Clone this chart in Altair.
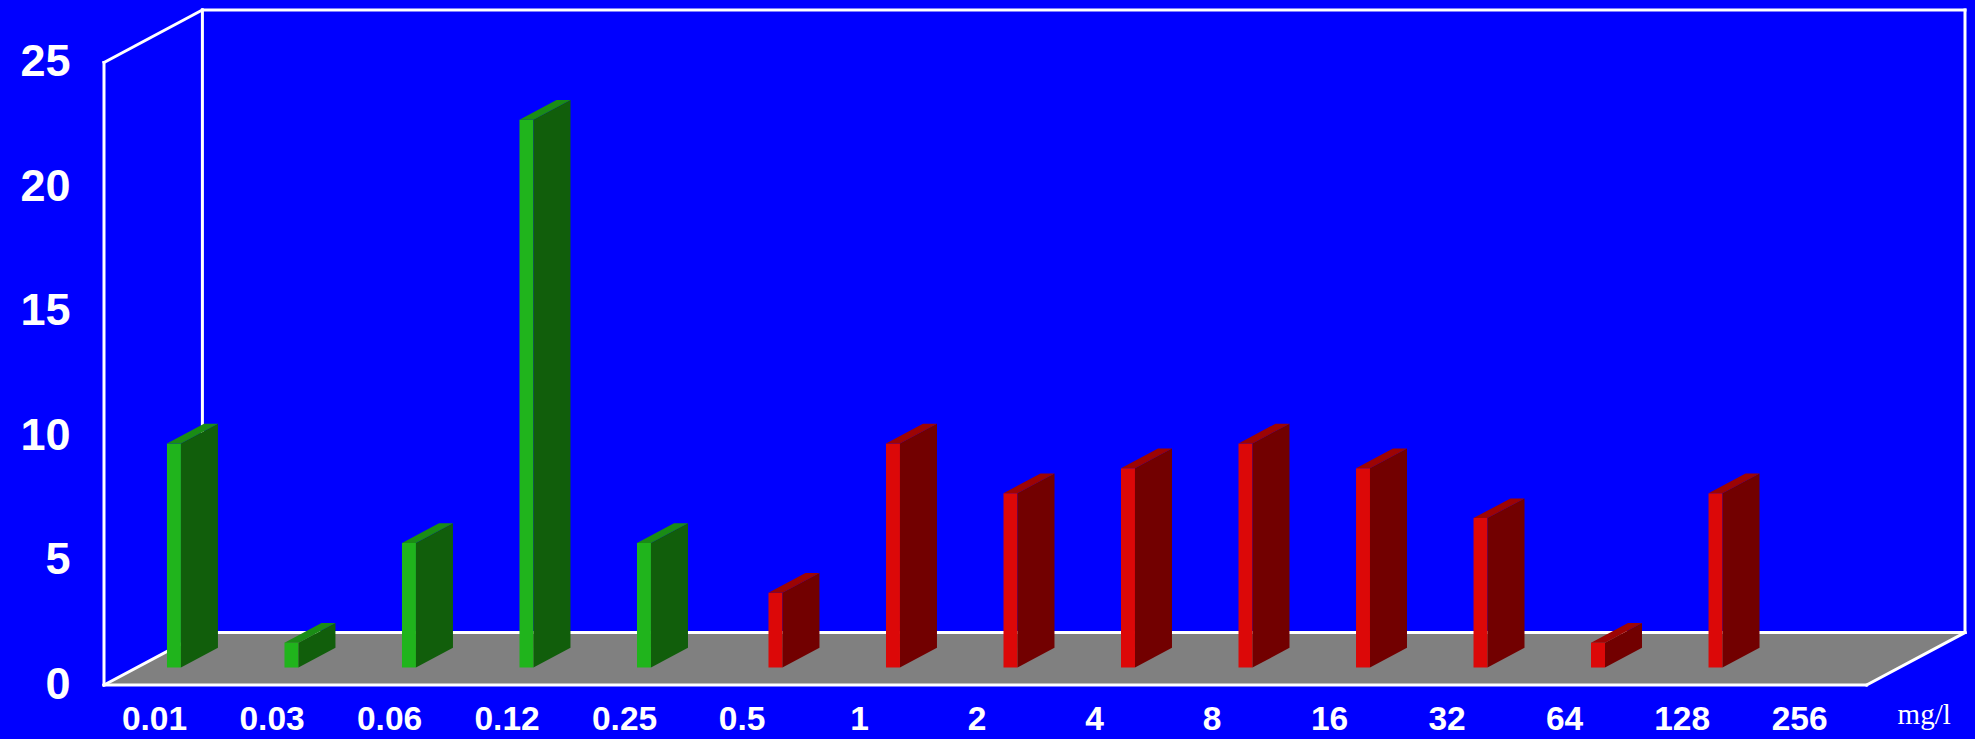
import altair as alt
import pandas as pd

# MIC distribution: number of isolates per concentration (mg/l)
categories = ["0.01", "0.03", "0.06", "0.12", "0.25", "0.5", "1", "2",
              "4", "8", "16", "32", "64", "128", "256"]
susceptible = [9, 1, 5, 22, 5, 0, 0, 0, 0, 0, 0, 0, 0, 0, 0]
resistant = [0, 0, 0, 0, 0, 3, 9, 7, 8, 9, 8, 6, 1, 7, 0]
y_ticks = [0, 5, 10, 15, 20, 25]
unit_label = "mg/l"

Y_MAX = 25
N = len(categories)

# Oblique projection of the 3-D box: depth z in [0, 1] shifts points
# right (in category units) and up (in value units).
KX = 98.4 / 117.5
KY = 52.5 / 24.92
Z1, Z2 = 0.333, 0.709      # depth of the bars' front and back faces
BAR_W = 0.119              # bar width in category units
SLOT0 = 0.257              # left edge of the first series slot


def proj(u, v, z):
    return u + z * KX, v + z * KY


series = [
    (susceptible, 0, "#20B41C", "#115E0B", "#1A8C15"),
    (resistant, 1, "#DC0808", "#720000", "#9C0404"),
]

front_rows, side_rows, top_rows = [], [], []
for values, slot, c_front, c_side, c_top in series:
    for i, val in enumerate(values):
        if val <= 0:
            continue
        ul = i + SLOT0 + slot * BAR_W
        ur = ul + BAR_W
        key = f"s{slot}_{i}"
        x0, y0 = proj(ul, 0, Z1)
        x1, y1 = proj(ur, val, Z1)
        front_rows.append(dict(x=x0, x2=x1, y=y0, y2=y1, c=c_front))
        for z in (Z1, Z2):
            xs, yb = proj(ur, 0, z)
            _, yt = proj(ur, val, z)
            side_rows.append(dict(key=key, x=xs, y=yt, y2=yb, c=c_side))
            xl, yv = proj(ul, val, z)
            xr, _ = proj(ur, val, z)
            top_rows.append(dict(key=key, y=yv, x=xl, x2=xr, c=c_top))

# White frame of the box
edges = [
    ((0, 0, 0), (0, Y_MAX, 0)),
    ((0, Y_MAX, 0), (0, Y_MAX, 1)),
    ((0, 0, 0), (0, 0, 1)),
    ((0, 0, 1), (0, Y_MAX, 1)),
    ((0, Y_MAX, 1), (N, Y_MAX, 1)),
    ((N, Y_MAX, 1), (N, 0, 1)),
    ((0, 0, 1), (N, 0, 1)),
    ((0, 0, 0), (N, 0, 0)),
    ((N, 0, 0), (N, 0, 1)),
]
frame_rows = []
for k, (a, b) in enumerate(edges):
    for o, p in enumerate((a, b)):
        px, py = proj(*p)
        frame_rows.append(dict(seg=k, o=o, x=px, y=py))

# Grey floor
floor_rows = []
for z in (0, 1):
    xa, ya = proj(0, 0, z)
    xb, _ = proj(N, 0, z)
    floor_rows.append(dict(y=ya, x=xa, x2=xb))

xlab_rows = [dict(x=i + 0.43, y=-1.806, t=c) for i, c in enumerate(categories)]
ylab_rows = [dict(x=-0.285, y=v, t=str(v)) for v in y_ticks]
unit_rows = [dict(x=15.49, y=-1.565, t=unit_label)]

XS = alt.Scale(domain=[0, N + KX], nice=False, zero=False)
YS = alt.Scale(domain=[0, Y_MAX + KY], nice=False, zero=False)


def X(f="x"):
    return alt.X(f"{f}:Q", scale=XS, axis=None)


def Y(f="y"):
    return alt.Y(f"{f}:Q", scale=YS, axis=None, stack=None)


floor = alt.Chart(pd.DataFrame(floor_rows)).mark_area(
    orient="horizontal", color="#808080"
).encode(y=Y(), x=X(), x2="x2:Q")

frame = alt.Chart(pd.DataFrame(frame_rows)).mark_line(
    color="white", strokeWidth=3, strokeCap="square"
).encode(x=X(), y=Y(), detail="seg:N", order="o:Q")

fronts = alt.Chart(pd.DataFrame(front_rows)).mark_rect().encode(
    x=X(), x2="x2:Q", y=Y(), y2="y2:Q", color=alt.Color("c:N", scale=None)
)

sides = alt.Chart(pd.DataFrame(side_rows)).mark_area(orient="vertical").encode(
    x=X(), y=Y(), y2="y2:Q", detail="key:N", color=alt.Color("c:N", scale=None)
)

tops = alt.Chart(pd.DataFrame(top_rows)).mark_area(orient="horizontal").encode(
    y=Y(), x=X(), x2="x2:Q", detail="key:N", color=alt.Color("c:N", scale=None)
)

xlabels = alt.Chart(pd.DataFrame(xlab_rows)).mark_text(
    font="Liberation Sans", fontSize=33.5, fontWeight="bold", color="white",
    align="center", baseline="alphabetic"
).encode(x=X(), y=Y(), text="t:N")

ylabels = alt.Chart(pd.DataFrame(ylab_rows)).mark_text(
    font="Liberation Sans", fontSize=45, fontWeight="bold", color="white",
    align="right", baseline="middle"
).encode(x=X(), y=Y(), text="t:N")

unit = alt.Chart(pd.DataFrame(unit_rows)).mark_text(
    font="Liberation Serif", fontSize=29, color="white",
    align="center", baseline="alphabetic"
).encode(x=X(), y=Y(), text="t:N")

chart = alt.layer(
    floor, frame, fronts, sides, tops, xlabels, ylabels, unit
).properties(
    width=1861,
    height=675,
    background="#0000FF",
    autosize=alt.AutoSizeParams(type="none"),
    padding={"left": 104, "top": 10, "right": 10, "bottom": 54},
).configure_view(stroke=None)

chart.save("out.html", embed_options={"renderer": "svg", "actions": False})
